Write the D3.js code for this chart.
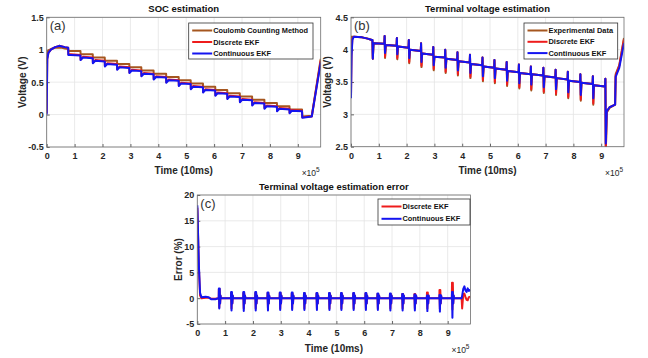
<!DOCTYPE html>
<html>
<head>
<meta charset="utf-8">
<script src="https://cdn.jsdelivr.net/npm/d3@7"></script>
<style>
  body { margin: 0; background: #fff; }
  svg { font-family: 'Liberation Sans', Arial, sans-serif; }
</style>
</head>
<body>
<div id="chart"></div>
<script>
// Shared time axis (units of 1e5 x 10ms)
const timeTicks = [0, 1, 2, 3, 4, 5, 6, 7, 8, 9]
const xMax = 9.82
const pulseTimes = [0.77, 1.21, 1.65, 2.08, 2.52, 2.96, 3.39, 3.83, 4.28, 4.73, 5.16, 5.60, 6.04, 6.47, 6.92, 7.36, 7.80, 8.25, 8.70, 9.15]

const colors = { coulomb: '#a5561f', discrete: '#ee1c1c', continuous: '#1414f0' }

// (a) SOC estimation
const socTicks = [-0.5, 0, 0.5, 1, 1.5]
const socHeadTime = [0, 0.02, 0.06, 0.15, 0.30, 0.45, 0.55, 0.65, 0.77]
const socCoulombHead = [0.78, 0.93, 0.99, 1.01, 1.03, 1.03, 1.03, 1.02, 1.01]
const socDiscreteHead = [0.02, 0.86, 0.95, 1.00, 1.04, 1.06, 1.05, 1.04, 1.03]
const socContinuousHead = [0, 0.85, 0.95, 1.00, 1.04, 1.06, 1.05, 1.04, 1.03]
const socCoulombStep = [0.98, 0.93, 0.88, 0.83, 0.78, 0.73, 0.68, 0.63, 0.58, 0.53, 0.48, 0.43, 0.38, 0.33, 0.28, 0.23, 0.18, 0.13, 0.08]
const socContinuousDip = [0.92, 0.84, 0.79, 0.74, 0.69, 0.64, 0.59, 0.54, 0.49, 0.44, 0.39, 0.34, 0.29, 0.24, 0.19, 0.14, 0.09, 0.05, 0.02]
const socContinuousRec = [0.92, 0.88, 0.83, 0.78, 0.73, 0.68, 0.63, 0.58, 0.53, 0.48, 0.43, 0.38, 0.33, 0.28, 0.23, 0.18, 0.13, 0.09, 0.06]
const socContinuousEnd = [0.91, 0.87, 0.82, 0.77, 0.72, 0.67, 0.62, 0.57, 0.52, 0.47, 0.42, 0.37, 0.32, 0.27, 0.22, 0.17, 0.12, 0.08, 0.05]
const socDiscreteDip = [0.93, 0.85, 0.80, 0.75, 0.70, 0.65, 0.60, 0.55, 0.50, 0.45, 0.40, 0.35, 0.30, 0.25, 0.20, 0.15, 0.10, 0.06, 0.03]
const socDiscreteRec = [0.93, 0.89, 0.84, 0.79, 0.74, 0.69, 0.64, 0.59, 0.54, 0.49, 0.44, 0.39, 0.34, 0.29, 0.24, 0.19, 0.14, 0.10, 0.07]
const socDiscreteEnd = [0.92, 0.88, 0.83, 0.78, 0.73, 0.68, 0.63, 0.58, 0.53, 0.48, 0.43, 0.38, 0.33, 0.28, 0.23, 0.18, 0.13, 0.09, 0.06]
const socTailTime = [9.16, 9.50, 9.82]
const socCoulombTail = [-0.03, -0.02, 0.86]
const socDiscreteTail = [-0.04, -0.03, 0.83]
const socContinuousTail = [-0.05, -0.03, 0.80]

// (b) Terminal voltage estimation
const voltTicks = [2.5, 3, 3.5, 4, 4.5]
const voltHeadTime = [0, 0.02, 0.05, 0.10, 0.40, 0.60, 0.75]
const voltExperimentalHead = [4.00, 4.20, 4.20, 4.20, 4.19, 4.17, 4.15]
const voltDiscreteHead = [3.28, 3.95, 4.17, 4.20, 4.19, 4.17, 4.15]
const voltContinuousHead = [3.25, 3.90, 4.15, 4.20, 4.19, 4.17, 4.15]
const voltPeak = [4.15, 4.21, 4.18, 4.15, 4.10, 4.04, 4.00, 3.96, 3.92, 3.88, 3.84, 3.81, 3.77, 3.74, 3.72, 3.69, 3.66, 3.62, 3.59]
const voltLevel = [4.10, 4.07, 4.05, 4.00, 3.94, 3.89, 3.86, 3.82, 3.78, 3.74, 3.71, 3.67, 3.64, 3.62, 3.59, 3.56, 3.52, 3.49, 3.45]
const voltLevelEnd = [4.09, 4.06, 4.03, 3.98, 3.92, 3.88, 3.84, 3.80, 3.76, 3.72, 3.69, 3.65, 3.62, 3.60, 3.57, 3.54, 3.50, 3.47, 3.43]
const voltExperimentalDip = [3.86, 3.87, 3.85, 3.79, 3.73, 3.68, 3.64, 3.60, 3.56, 3.51, 3.48, 3.44, 3.40, 3.37, 3.33, 3.30, 3.25, 3.21, 3.15]
const voltDiscreteDip = [3.86, 3.89, 3.87, 3.81, 3.75, 3.70, 3.66, 3.62, 3.58, 3.53, 3.50, 3.46, 3.42, 3.39, 3.35, 3.32, 3.27, 3.23, 3.17]
const voltContinuousDip = [3.86, 3.95, 3.93, 3.87, 3.81, 3.76, 3.72, 3.68, 3.64, 3.59, 3.56, 3.52, 3.48, 3.46, 3.42, 3.39, 3.34, 3.30, 3.25]
const voltTailTime = [9.15, 9.165, 9.20, 9.30, 9.50, 9.52, 9.65, 9.82]
const voltExperimentalTail = [3.55, 2.40, 3.03, 3.10, 3.15, 3.62, 3.76, 4.18]
const voltDiscreteTail = [3.55, 2.42, 3.04, 3.11, 3.15, 3.60, 3.75, 4.16]
const voltContinuousTail = [3.55, 2.55, 3.05, 3.11, 3.15, 3.58, 3.72, 4.10]

// (c) Terminal voltage estimation error (%)
const errTicks = [-5, 0, 5, 10, 15, 20]
const errHeadTime = [0, 0.005, 0.03, 0.06, 0.10, 0.15, 0.30, 0.40, 0.50, 0.65, 0.76]
const errDiscreteHead = [17.5, 17.0, 11.5, 5.5, 0.5, 0, 0.1, 0.1, -0.1, -0.1, 0]
const errContinuousHead = [18.0, 17.5, 12.0, 6.0, 1.0, 0.2, 0.3, 0.2, -0.2, -0.2, 0]
const errDiscreteUp = [1.8, 1.0, 1.0, 1.0, 1.0, 1.0, 0.9, 0.9, 0.9, 0.9, 0.9, 0.9, 0.9, 0.8, 0.8, 0.8, 0.8, 1.1, 1.6, 3.0]
const errDiscreteDown = [-1.8, -2.0, -2.0, -2.0, -2.0, -2.0, -2.0, -2.0, -2.0, -2.0, -2.0, -2.0, -2.0, -2.0, -2.0, -2.0, -2.0, -2.0, -2.1, -2.2]
const errContinuousUp = [1.9, 1.2, 1.2, 1.2, 1.1, 1.1, 1.1, 1.0, 1.0, 1.0, 1.0, 1.0, 1.0, 0.9, 0.9, 0.8, 0.7, 0.5, 0.6, 1.2]
const errContinuousDown = [-2.0, -2.4, -2.5, -2.4, -2.4, -2.3, -2.3, -2.3, -2.3, -2.3, -2.3, -2.3, -2.3, -2.3, -2.4, -2.4, -2.4, -2.5, -2.6, -3.8]
const errRing = [-1.0, 0.5]
const errTailTime = [9.25, 9.50, 9.52, 9.56, 9.60, 9.64, 9.68, 9.72, 9.76, 9.82]
const errDiscreteTail = [0, 0, -2.0, 0.8, 0.9, 0.2, -0.3, -0.4, 0.2, 0.3]
const errContinuousTail = [0, 0, 0.5, 1.8, 2.3, 1.5, 1.2, 1.9, 1.4, 1.6]

// Join start segment, pulse-by-pulse values and end segment into [time, value] points
const buildSoc = (head, dip, rec, end, tail) => {
  const pts = socHeadTime.map((t, i) => [t, head[i]])
  dip.forEach((d, k) => {
    pts.push([pulseTimes[k] + 0.005, d])
    pts.push([pulseTimes[k] + 0.09, rec[k]])
    pts.push([pulseTimes[k + 1], end[k]])
  })
  socTailTime.forEach((t, i) => pts.push([t, tail[i]]))
  return pts
}

const buildVoltage = (head, dip, tail) => {
  const pts = voltHeadTime.map((t, i) => [t, head[i]])
  dip.forEach((d, k) => {
    pts.push([pulseTimes[k], voltPeak[k]])
    pts.push([pulseTimes[k] + 0.015, d])
    pts.push([pulseTimes[k] + 0.04, voltLevel[k]])
    pts.push([pulseTimes[k + 1] - 0.01, voltLevelEnd[k]])
  })
  voltTailTime.forEach((t, i) => pts.push([t, tail[i]]))
  return pts
}

const buildError = (head, up, down, tail) => {
  const pts = errHeadTime.map((t, i) => [t, head[i]])
  up.forEach((u, k) => {
    const t = pulseTimes[k]
    pts.push([t, 0], [t + 0.005, u], [t + 0.02, down[k]], [t + 0.035, u],
      [t + 0.05, errRing[0]], [t + 0.065, errRing[1]], [t + 0.08, 0])
  })
  errTailTime.forEach((t, i) => pts.push([t, tail[i]]))
  return pts
}

const svg = d3.select('#chart')
  .append('svg')
  .attr('width', 648)
  .attr('height', 358)

const panels = [
  {
    left: 46.7, top: 17.3, width: 274, height: 129.7, tag: '(a)',
    title: 'SOC estimation', yLabel: 'Voltage (V)', yLabelX: 22.5,
    yDomain: [-0.5, 1.5], yTicks: socTicks,
    legend: { x: 188.7, y: 23, w: 124.3, h: 36, step: 11.5 },
    series: [
      { name: 'Coulomb Counting Method', color: colors.coulomb, pts: buildSoc(socCoulombHead, socCoulombStep, socCoulombStep, socCoulombStep, socCoulombTail) },
      { name: 'Discrete EKF', color: colors.discrete, pts: buildSoc(socDiscreteHead, socDiscreteDip, socDiscreteRec, socDiscreteEnd, socDiscreteTail) },
      { name: 'Continuous EKF', color: colors.continuous, pts: buildSoc(socContinuousHead, socContinuousDip, socContinuousRec, socContinuousEnd, socContinuousTail) }
    ]
  },
  {
    left: 351, top: 17.3, width: 273, height: 129.4, tag: '(b)',
    title: 'Terminal voltage estimation', yLabel: 'Voltage (V)', yLabelX: 327,
    yDomain: [2.5, 4.5], yTicks: voltTicks,
    legend: { x: 524, y: 23, w: 93.7, h: 36, step: 11.3 },
    series: [
      { name: 'Experimental Data', color: colors.coulomb, pts: buildVoltage(voltExperimentalHead, voltExperimentalDip, voltExperimentalTail) },
      { name: 'Discrete EKF', color: colors.discrete, pts: buildVoltage(voltDiscreteHead, voltDiscreteDip, voltDiscreteTail) },
      { name: 'Continuous EKF', color: colors.continuous, pts: buildVoltage(voltContinuousHead, voltContinuousDip, voltContinuousTail) }
    ]
  },
  {
    left: 197.3, top: 195, width: 273.2, height: 129, tag: '(c)',
    title: 'Terminal voltage estimation error', yLabel: 'Error (%)', yLabelX: 178.7,
    yDomain: [-5, 20], yTicks: errTicks,
    legend: { x: 378, y: 199, w: 92, h: 26, step: 12.3 },
    series: [
      { name: 'Discrete EKF', color: colors.discrete, pts: buildError(errDiscreteHead, errDiscreteUp, errDiscreteDown, errDiscreteTail) },
      { name: 'Continuous EKF', color: colors.continuous, pts: buildError(errContinuousHead, errContinuousUp, errContinuousDown, errContinuousTail) }
    ]
  }
]

panels.forEach((p, idx) => {
  const x = d3.scaleLinear().domain([0, xMax]).range([0, p.width])
  const y = d3.scaleLinear().domain(p.yDomain).range([p.height, 0])

  const g = svg.append('g')
    .attr('transform', `translate(${p.left},${p.top})`)

  // Grid lines
  g.append('g')
    .selectAll('line')
    .data(timeTicks)
    .join('line')
    .attr('x1', d => x(d)).attr('x2', d => x(d))
    .attr('y1', 0).attr('y2', p.height)
    .attr('stroke', '#e4e4e4')
    .attr('stroke-width', 0.8)
  g.append('g')
    .selectAll('line')
    .data(p.yTicks)
    .join('line')
    .attr('x1', 0).attr('x2', p.width)
    .attr('y1', d => y(d)).attr('y2', d => y(d))
    .attr('stroke', '#e4e4e4')
    .attr('stroke-width', 0.8)

  // Axes with inward ticks
  g.append('g')
    .attr('transform', `translate(0,${p.height})`)
    .call(d3.axisBottom(x).tickValues(timeTicks).tickSizeInner(-3).tickSizeOuter(0).tickPadding(6).tickFormat(d3.format('d')))
    .call(a => a.select('.domain').remove())
    .call(a => a.selectAll('.tick line').attr('stroke', '#666'))
    .call(a => a.selectAll('.tick text')
      .attr('font-size', 9).attr('font-weight', 'bold').attr('fill', '#262626')
      .attr('font-family', 'Liberation Sans, Arial, sans-serif'))

  g.append('g')
    .call(d3.axisLeft(y).tickValues(p.yTicks).tickSizeInner(-3).tickSizeOuter(0).tickPadding(3).tickFormat(d => String(d)))
    .call(a => a.select('.domain').remove())
    .call(a => a.selectAll('.tick line').attr('stroke', '#666'))
    .call(a => a.selectAll('.tick text')
      .attr('font-size', 9).attr('font-weight', 'bold').attr('fill', '#262626')
      .attr('font-family', 'Liberation Sans, Arial, sans-serif'))

  // Data lines, clipped to the plot box
  const clipId = `clip-${idx}`
  g.append('clipPath').attr('id', clipId)
    .append('rect').attr('width', p.width).attr('height', p.height)

  const line = d3.line()
    .x(d => x(d[0]))
    .y(d => y(d[1]))

  g.append('g')
    .attr('clip-path', `url(#${clipId})`)
    .selectAll('path')
    .data(p.series)
    .join('path')
    .attr('fill', 'none')
    .attr('stroke', d => d.color)
    .attr('stroke-width', 2)
    .attr('stroke-linejoin', 'round')
    .attr('d', d => line(d.pts))

  // Plot box
  g.append('rect')
    .attr('width', p.width)
    .attr('height', p.height)
    .attr('fill', 'none')
    .attr('stroke', '#6e6e6e')
    .attr('stroke-width', 0.8)

  // Panel tag
  g.append('text')
    .attr('x', 3)
    .attr('y', 12.5)
    .attr('font-size', 13)
    .attr('fill', '#333')
    .text(p.tag)

  // Title
  g.append('text')
    .attr('x', p.width / 2)
    .attr('y', -5)
    .attr('text-anchor', 'middle')
    .attr('font-size', 9.5)
    .attr('font-weight', 'bold')
    .attr('fill', '#111')
    .text(p.title)

  // X label and exponent
  g.append('text')
    .attr('x', p.width / 2)
    .attr('y', p.height + 27.5)
    .attr('text-anchor', 'middle')
    .attr('font-size', 10)
    .attr('font-weight', 'bold')
    .attr('fill', '#262626')
    .text('Time (10ms)')

  const expo = g.append('text')
    .attr('x', p.width - 1)
    .attr('y', p.height + 29)
    .attr('text-anchor', 'end')
    .attr('font-size', 8.5)
    .attr('fill', '#262626')
  expo.append('tspan').text('×10')
  expo.append('tspan').attr('dy', -4).attr('font-size', 6.5).text('5')

  // Y label
  svg.append('text')
    .attr('transform', `translate(${p.yLabelX},${p.top + p.height / 2}) rotate(-90)`)
    .attr('text-anchor', 'middle')
    .attr('dy', '0.35em')
    .attr('font-size', 10)
    .attr('font-weight', 'bold')
    .attr('fill', '#262626')
    .text(p.yLabel)

  // Legend
  const lg = svg.append('g')
    .attr('transform', `translate(${p.legend.x},${p.legend.y})`)
  lg.append('rect')
    .attr('width', p.legend.w)
    .attr('height', p.legend.h)
    .attr('fill', '#fff')
    .attr('stroke', '#333')
    .attr('stroke-width', 0.8)
  const rows = lg.selectAll('g.row')
    .data(p.series)
    .join('g')
    .attr('class', 'row')
    .attr('transform', (d, i) => `translate(0,${7.5 + i * p.legend.step})`)
  rows.append('line')
    .attr('x1', 3.5).attr('x2', 23.5)
    .attr('stroke', d => d.color)
    .attr('stroke-width', 2)
  rows.append('text')
    .attr('x', 24.5)
    .attr('dy', '0.35em')
    .attr('font-size', 7.4)
    .attr('font-weight', 'bold')
    .attr('fill', '#111')
    .text(d => d.name)
})
</script>
</body>
</html>
